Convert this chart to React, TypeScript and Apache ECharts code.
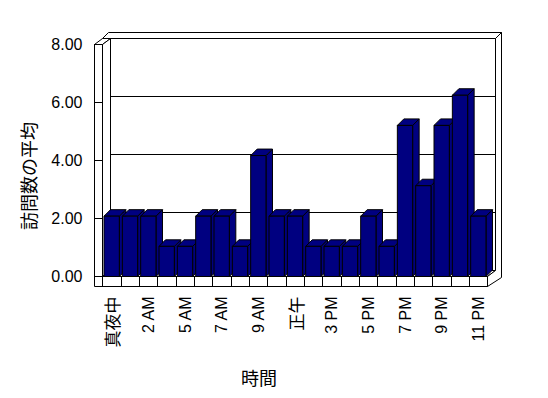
import React, { useEffect, useRef } from "react";
import * as echarts from "echarts";

const categories = [
  "真夜中", "1 AM", "2 AM", "3 AM", "5 AM", "6 AM", "7 AM", "8 AM", "9 AM", "10 AM", "正午",
  "1 PM", "3 PM", "4 PM", "5 PM", "6 PM", "7 PM", "8 PM", "9 PM", "10 PM", "11 PM",
];
const visits = [
  2.08, 2.08, 2.08, 1.04, 1.04, 2.08, 2.08, 1.04, 4.17, 2.08, 2.08,
  1.04, 1.04, 1.04, 2.08, 1.04, 5.21, 3.13, 5.21, 6.25, 2.08,
];
const yMin = 0;
const yMax = 8;
const yStep = 2;
const gridValues = [2, 4, 6, 8];
const yTitle = "訪問数の平均";
const xTitle = "時間";

// layout (pixels)
const W = 548;
const H = 398;
const FL = 102.5; // front plane left (category band start)
const FR = 487.5; // front plane right
const FT = 44.5; // front plane top (value 8)
const FB = 276.5; // front plane bottom (value 0)
const DX = 8; // box depth
const DY = -6;
const TX = 6; // back wall thickness
const TY = -6;
const WALL = 94.5; // left wall outer x
const FLOOR_B = 286.5; // floor front bottom
const BAR_D = 6.5;

const LATIN = "'Liberation Sans', Arial, sans-serif";
const CJK = "'Noto Sans CJK JP', sans-serif";

export default function App() {
  const ref = useRef<HTMLDivElement>(null);
  useEffect(() => {
    document.body.style.margin = "0";
    if (!ref.current) return;
    const chart = echarts.init(ref.current, undefined, { renderer: "svg" });
    const line = { stroke: "#000", lineWidth: 1, fill: "#fff" };
    const bx = FL + DX;
    const by = FT + DY;
    const bbot = FB + DY;
    const rx = FR + DX;
    const graphics: any[] = [
      // back wall inner face
      { type: "rect", z: -2, shape: { x: bx, y: by, width: rx - bx, height: bbot - by }, style: line },
      // back wall top thickness
      {
        type: "polygon", z: -1,
        shape: { points: [[FL, by], [rx, by], [rx + TX, by + TY], [FL + TX, by + TY]] },
        style: line,
      },
      // left wall top
      {
        type: "polygon", z: -1,
        shape: { points: [[WALL, FT], [FL, FT], [bx, by], [WALL + DX, by]] },
        style: line,
      },
      // left wall inner face
      {
        type: "polygon", z: -1,
        shape: { points: [[FL, FT], [bx, by], [bx, bbot], [FL, FB]] },
        style: line,
      },
      // floor top
      {
        type: "polygon", z: -1,
        shape: { points: [[FL, FB], [FR, FB], [rx, bbot], [bx, bbot]] },
        style: line,
      },
      // right side (back wall edge + floor side)
      {
        type: "polygon", z: -1,
        shape: {
          points: [
            [FR, FB], [FR, FLOOR_B], [rx + TX, FLOOR_B + DY + TY + 3], [rx + TX, by + TY], [rx, by], [rx, bbot],
          ],
        },
        style: line,
      },
      // left wall front face
      { type: "rect", z: -1, shape: { x: WALL, y: FT, width: FL - WALL, height: FB - FT }, style: line },
      // floor front face
      { type: "rect", z: -1, shape: { x: WALL, y: FB, width: FR - WALL, height: FLOOR_B - FB }, style: line },
      // titles
      {
        type: "text", x: 28, y: 176, rotation: Math.PI / 2,
        style: { text: yTitle, font: `18px ${CJK}`, fill: "#000", align: "center", verticalAlign: "middle" },
      },
      {
        type: "text", x: 259, y: 377,
        style: { text: xTitle, font: `18px ${CJK}`, fill: "#000", align: "center", verticalAlign: "middle" },
      },
    ];

    const option: any = {
      animation: false,
      backgroundColor: "#fff",
      grid: [
        { left: FL, top: FT, width: FR - FL, height: FB - FT, containLabel: false },
        { left: bx, top: by, width: rx - bx, height: bbot - by, containLabel: false },
      ],
      xAxis: [
        {
          type: "category",
          gridIndex: 0,
          data: categories,
          boundaryGap: true,
          axisLine: { show: true, lineStyle: { color: "#000", width: 1 } },
          axisTick: { show: true, interval: 0, length: FLOOR_B - FB, lineStyle: { color: "#000" } },
          axisLabel: {
            interval: 1,
            rotate: 90,
            margin: 20,
            color: "#000000",
            fontFamily: LATIN,
            fontSize: 16,
            formatter: (v: string) => (/[^\x00-\x7f]/.test(v) ? `{c|${v}}` : v),
            rich: { c: { fontFamily: CJK, fontSize: 17, color: "#000000" } },
          },
          splitLine: { show: false },
        },
        { type: "value", gridIndex: 1, min: 0, max: 1, show: false },
      ],
      yAxis: [
        {
          type: "value",
          gridIndex: 0,
          min: yMin,
          max: yMax,
          interval: yStep,
          position: "left",
          offset: FL - WALL,
          axisLine: { show: true, lineStyle: { color: "#000", width: 1 } },
          axisTick: { show: true, inside: true, length: FL - WALL, lineStyle: { color: "#000" } },
          axisLabel: {
            margin: 12,
            color: "#000",
            fontFamily: LATIN,
            fontSize: 16,
            formatter: (v: number) => v.toFixed(2),
          },
          splitLine: { show: false },
        },
        {
          type: "value",
          gridIndex: 1,
          min: yMin,
          max: yMax,
          interval: yStep,
          show: false,
        },
      ],
      graphic: graphics,
      series: [
        {
          type: "custom",
          xAxisIndex: 1,
          yAxisIndex: 1,
          z: 1,
          clip: false,
          silent: true,
          encode: { y: 0 },
          data: gridValues.map((v) => [v]),
          renderItem: (params: any, api: any) => {
            const v = api.value(0);
            const a = api.coord([0, v]);
            const b = api.coord([1, v]);
            return {
              type: "line",
              shape: { x1: a[0], y1: a[1], x2: b[0], y2: b[1] },
              style: { stroke: "#000", lineWidth: 1 },
            };
          },
        },
        {
          type: "custom",
          xAxisIndex: 0,
          yAxisIndex: 0,
          z: 3,
          clip: false,
          encode: { x: 0, y: 1 },
          data: visits.map((v, i) => [i, v]),
          renderItem: (params: any, api: any) => {
            const idx = api.value(0);
            const val = api.value(1);
            const top = api.coord([idx, val]);
            const base = api.coord([idx, 0]);
            const band = api.size([1, 0])[0];
            const w = band * 0.835;
            const x = top[0] - w / 2;
            const yT = top[1];
            const yB = base[1];
            const d = BAR_D;
            const st = { fill: "#000080", stroke: "#000", lineWidth: 1 };
            return {
              type: "group",
              children: [
                {
                  type: "polygon",
                  shape: { points: [[x + w, yT], [x + w + d, yT - d], [x + w + d, yB - d], [x + w, yB]] },
                  style: st,
                },
                {
                  type: "polygon",
                  shape: { points: [[x, yT], [x + w, yT], [x + w + d, yT - d], [x + d, yT - d]] },
                  style: st,
                },
                { type: "rect", shape: { x, y: yT, width: w, height: yB - yT }, style: st },
              ],
            };
          },
        },
      ],
    };
    chart.setOption(option);
    return () => chart.dispose();
  }, []);
  return <div ref={ref} style={{ width: W, height: H }} />;
}
